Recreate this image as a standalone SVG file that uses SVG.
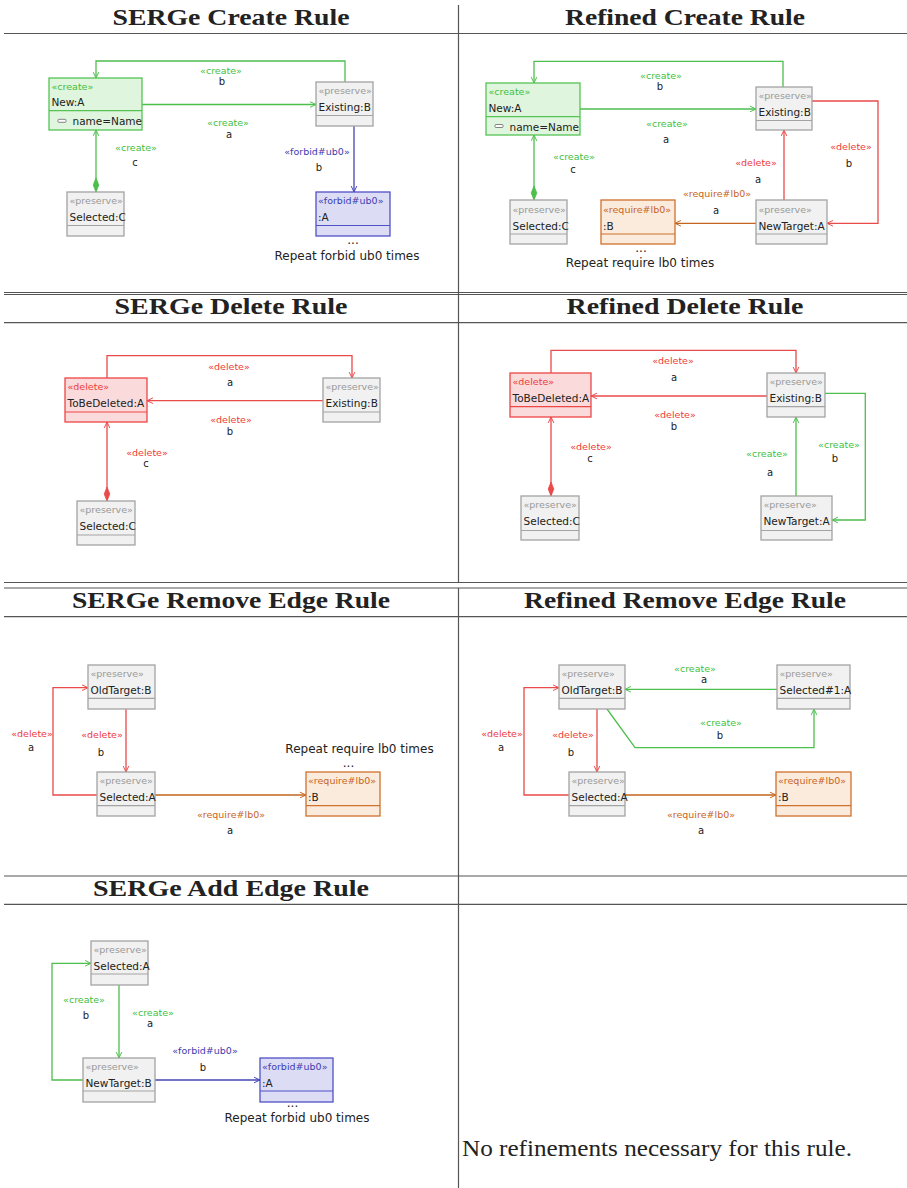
<svg xmlns="http://www.w3.org/2000/svg" width="907" height="1188" viewBox="0 0 907 1188">
  <style>
    .grid { stroke: #555; stroke-width: 1.2; fill: none; }
    .title { font-family: "Liberation Serif", "Times New Roman", serif; font-weight: bold; font-size: 23.5px; fill: #222; text-anchor: middle; }
    .body { font-family: "Liberation Serif", "Times New Roman", serif; font-size: 23px; fill: #222; }
    .box { stroke-width: 1.3; }
    .sep { stroke-width: 1.2; }
    .preserve { fill: #f0f1f0; stroke: #a3a3a3; }
    .create { fill: #e0f5dd; stroke: #55c455; }
    .forbid { fill: #dcdcf4; stroke: #5050c8; }
    .require { fill: #fbebdc; stroke: #d0702c; }
    .delete { fill: #fadadb; stroke: #ee4646; }
    text { font-family: "DejaVu Sans", "Noto Sans", sans-serif; }
    .st { font-size: 9.5px; }
    .nm { font-size: 10.5px; fill: #222; }
    .lt { font-size: 10px; fill: #222; text-anchor: middle; }
    .el { font-size: 9.5px; text-anchor: middle; }
    .note { font-size: 12px; fill: #222; text-anchor: middle; }
    .t-pre { fill: #999; }
    .t-cre { fill: #3fbf3f; }
    .t-del { fill: #ee3a3a; }
    .t-for { fill: #3c3cb0; }
    .t-req { fill: #c8641e; }
    .e { fill: none; stroke-width: 1.3; }
    .e-cre { stroke: #4cbf4c; }
    .e-del { stroke: #ea4a4a; }
    .e-for { stroke: #4444b4; }
    .e-req { stroke: #c4641e; }
  </style>
  <defs>
    <marker id="arrow-cre" viewBox="0 0 10 10" refX="9.5" refY="5" markerWidth="7" markerHeight="8" markerUnits="userSpaceOnUse" orient="auto">
      <path d="M1,1 L9.5,5 L1,9" fill="none" stroke="#4cbf4c" stroke-width="1.4"/>
    </marker>
    <marker id="arrow-del" viewBox="0 0 10 10" refX="9.5" refY="5" markerWidth="7" markerHeight="8" markerUnits="userSpaceOnUse" orient="auto">
      <path d="M1,1 L9.5,5 L1,9" fill="none" stroke="#ea4a4a" stroke-width="1.4"/>
    </marker>
    <marker id="arrow-for" viewBox="0 0 10 10" refX="9.5" refY="5" markerWidth="7" markerHeight="8" markerUnits="userSpaceOnUse" orient="auto">
      <path d="M1,1 L9.5,5 L1,9" fill="none" stroke="#4444b4" stroke-width="1.4"/>
    </marker>
    <marker id="arrow-req" viewBox="0 0 10 10" refX="9.5" refY="5" markerWidth="7" markerHeight="8" markerUnits="userSpaceOnUse" orient="auto">
      <path d="M1,1 L9.5,5 L1,9" fill="none" stroke="#c4641e" stroke-width="1.4"/>
    </marker>
    <marker id="diamond-cre" viewBox="0 0 14 10" refX="0" refY="5" markerWidth="14" markerHeight="10" markerUnits="userSpaceOnUse" orient="auto">
      <path d="M0,5 L7,2.2 L14,5 L7,7.8 Z" fill="#4cbf4c" stroke="#4cbf4c" stroke-width="0.8"/>
    </marker>
    <marker id="diamond-del" viewBox="0 0 14 10" refX="0" refY="5" markerWidth="14" markerHeight="10" markerUnits="userSpaceOnUse" orient="auto">
      <path d="M0,5 L7,2.2 L14,5 L7,7.8 Z" fill="#ea4a4a" stroke="#ea4a4a" stroke-width="0.8"/>
    </marker>
  </defs>

  <rect x="0" y="0" width="907" height="1188" fill="#ffffff"/>

  <!-- table rules -->
  <g id="table">
    <line class="grid" x1="458.5" y1="5" x2="458.5" y2="582.5"/>
    <line class="grid" x1="458.5" y1="588" x2="458.5" y2="1188"/>
    <line class="grid" x1="4" y1="33.5" x2="907" y2="33.5"/>
    <line class="grid" x1="4" y1="292.5" x2="907" y2="292.5"/>
    <line class="grid" x1="4" y1="294.5" x2="907" y2="294.5"/>
    <line class="grid" x1="4" y1="322.7" x2="907" y2="322.7"/>
    <line class="grid" x1="4" y1="582.5" x2="907" y2="582.5"/>
    <line class="grid" x1="4" y1="588" x2="907" y2="588"/>
    <line class="grid" x1="4" y1="616.7" x2="907" y2="616.7"/>
    <line class="grid" x1="4" y1="876" x2="907" y2="876"/>
    <line class="grid" x1="4" y1="904.3" x2="907" y2="904.3"/>
  </g>

  <!-- headings -->
  <g id="headings">
    <text class="title" x="231" y="25" textLength="237" lengthAdjust="spacingAndGlyphs">SERGe Create Rule</text>
    <text class="title" x="685" y="25" textLength="240" lengthAdjust="spacingAndGlyphs">Refined Create Rule</text>
    <text class="title" x="231" y="314" textLength="233" lengthAdjust="spacingAndGlyphs">SERGe Delete Rule</text>
    <text class="title" x="685" y="314" textLength="237" lengthAdjust="spacingAndGlyphs">Refined Delete Rule</text>
    <text class="title" x="231" y="608.3" textLength="318" lengthAdjust="spacingAndGlyphs">SERGe Remove Edge Rule</text>
    <text class="title" x="685" y="608.3" textLength="322" lengthAdjust="spacingAndGlyphs">Refined Remove Edge Rule</text>
    <text class="title" x="231" y="896" textLength="276" lengthAdjust="spacingAndGlyphs">SERGe Add Edge Rule</text>
    <text class="body" x="462" y="1156" textLength="390" lengthAdjust="spacingAndGlyphs">No refinements necessary for this rule.</text>
  </g>

  <!-- connectors -->
  <g id="connectors">
    <!-- SERGe Create Rule -->
    <path class="e e-cre" d="M345,82 V61 H96 V78" marker-end="url(#arrow-cre)"/>
    <path class="e e-cre" d="M142,104.5 H316" marker-end="url(#arrow-cre)"/>
    <path class="e e-cre" d="M96,192 V130" marker-start="url(#diamond-cre)" marker-end="url(#arrow-cre)"/>
    <path class="e e-for" d="M354,126 V192" marker-end="url(#arrow-for)"/>
    <text class="el t-cre" x="221" y="74.4">«create»</text>
    <text class="lt" x="222" y="85.3">b</text>
    <text class="el t-cre" x="228" y="126">«create»</text>
    <text class="lt" x="229" y="138">a</text>
    <text class="el t-cre" x="136" y="151">«create»</text>
    <text class="lt" x="135" y="165.5">c</text>
    <text class="el t-for" x="317" y="155.4">«forbid#ub0»</text>
    <text class="lt" x="319" y="171">b</text>

    <!-- Refined Create Rule -->
    <path class="e e-cre" d="M783,87 V61.3 H534 V83" marker-end="url(#arrow-cre)"/>
    <path class="e e-cre" d="M580,109 H756" marker-end="url(#arrow-cre)"/>
    <path class="e e-cre" d="M534,200 V135" marker-start="url(#diamond-cre)" marker-end="url(#arrow-cre)"/>
    <path class="e e-del" d="M784,200 V130" marker-end="url(#arrow-del)"/>
    <path class="e e-del" d="M812,101 H878 V223.3 H827" marker-end="url(#arrow-del)"/>
    <path class="e e-req" d="M756,223.3 H675" marker-end="url(#arrow-req)"/>
    <text class="el t-cre" x="661" y="79.4">«create»</text>
    <text class="lt" x="660" y="89.8">b</text>
    <text class="el t-cre" x="667" y="127">«create»</text>
    <text class="lt" x="666" y="143">a</text>
    <text class="el t-cre" x="574" y="160">«create»</text>
    <text class="lt" x="573" y="173">c</text>
    <text class="el t-del" x="756" y="165.7">«delete»</text>
    <text class="lt" x="758" y="182.5">a</text>
    <text class="el t-del" x="851" y="150.4">«delete»</text>
    <text class="lt" x="849" y="166.5">b</text>
    <text class="el t-req" x="717" y="196.7">«require#lb0»</text>
    <text class="lt" x="716" y="213.8">a</text>

    <!-- SERGe Delete Rule -->
    <path class="e e-del" d="M107,378 V355.7 H352 V378" marker-end="url(#arrow-del)"/>
    <path class="e e-del" d="M323,400.7 H147" marker-end="url(#arrow-del)"/>
    <path class="e e-del" d="M107,501 V422" marker-start="url(#diamond-del)" marker-end="url(#arrow-del)"/>
    <text class="el t-del" x="229" y="369.7">«delete»</text>
    <text class="lt" x="230" y="386">a</text>
    <text class="el t-del" x="231" y="423.4">«delete»</text>
    <text class="lt" x="230" y="434.5">b</text>
    <text class="el t-del" x="147" y="455.7">«delete»</text>
    <text class="lt" x="146" y="467">c</text>

    <!-- Refined Delete Rule -->
    <path class="e e-del" d="M551,373 V350.3 H796 V373" marker-end="url(#arrow-del)"/>
    <path class="e e-del" d="M767,396 H591" marker-end="url(#arrow-del)"/>
    <path class="e e-del" d="M551,496 V417" marker-start="url(#diamond-del)" marker-end="url(#arrow-del)"/>
    <path class="e e-cre" d="M796,496 V417" marker-end="url(#arrow-cre)"/>
    <path class="e e-cre" d="M825,393.3 H865.3 V520 H832" marker-end="url(#arrow-cre)"/>
    <text class="el t-del" x="673" y="364.4">«delete»</text>
    <text class="lt" x="674" y="381">a</text>
    <text class="el t-del" x="675" y="418.4">«delete»</text>
    <text class="lt" x="674" y="430">b</text>
    <text class="el t-del" x="591" y="450">«delete»</text>
    <text class="lt" x="590" y="462">c</text>
    <text class="el t-cre" x="767" y="457.4">«create»</text>
    <text class="lt" x="770" y="475.5">a</text>
    <text class="el t-cre" x="839" y="447.7">«create»</text>
    <text class="lt" x="835" y="462">b</text>

    <!-- SERGe Remove Edge Rule -->
    <path class="e e-del" d="M97,795 H53 V687.7 H88" marker-end="url(#arrow-del)"/>
    <path class="e e-del" d="M126,709 V772" marker-end="url(#arrow-del)"/>
    <path class="e e-req" d="M155,795 H306" marker-end="url(#arrow-req)"/>
    <text class="el t-del" x="32" y="736.7">«delete»</text>
    <text class="lt" x="31" y="751">a</text>
    <text class="el t-del" x="102" y="738.4">«delete»</text>
    <text class="lt" x="101" y="755.5">b</text>
    <text class="el t-req" x="231" y="817.7">«require#lb0»</text>
    <text class="lt" x="230" y="833.8">a</text>

    <!-- Refined Remove Edge Rule -->
    <path class="e e-del" d="M569,795 H524 V687.7 H559" marker-end="url(#arrow-del)"/>
    <path class="e e-del" d="M597,709 V772" marker-end="url(#arrow-del)"/>
    <path class="e e-cre" d="M777,689.3 H625" marker-end="url(#arrow-cre)"/>
    <path class="e e-cre" d="M607,709 L635,747.7 H814 V709" marker-end="url(#arrow-cre)"/>
    <path class="e e-req" d="M625,795 H776" marker-end="url(#arrow-req)"/>
    <text class="el t-del" x="502" y="736.7">«delete»</text>
    <text class="lt" x="501" y="751">a</text>
    <text class="el t-del" x="573" y="738.4">«delete»</text>
    <text class="lt" x="571" y="755.5">b</text>
    <text class="el t-cre" x="695" y="672.4">«create»</text>
    <text class="lt" x="704" y="683">a</text>
    <text class="el t-cre" x="721" y="725.7">«create»</text>
    <text class="lt" x="720" y="738.5">b</text>
    <text class="el t-req" x="701" y="817.7">«require#lb0»</text>
    <text class="lt" x="701" y="833.8">a</text>

    <!-- SERGe Add Edge Rule -->
    <path class="e e-cre" d="M119,985 V1058" marker-end="url(#arrow-cre)"/>
    <path class="e e-cre" d="M83,1080 H52 V963.3 H91" marker-end="url(#arrow-cre)"/>
    <path class="e e-for" d="M155,1080 H260" marker-end="url(#arrow-for)"/>
    <text class="el t-cre" x="153" y="1015.5">«create»</text>
    <text class="lt" x="150" y="1027">a</text>
    <text class="el t-cre" x="84" y="1003.4">«create»</text>
    <text class="lt" x="86" y="1018.5">b</text>
    <text class="el t-for" x="205" y="1054">«forbid#ub0»</text>
    <text class="lt" x="203" y="1070.5">b</text>
  </g>

  <!-- SERGe Create Rule nodes -->
  <g id="c1-new">
    <rect class="box create" x="49" y="78" width="93" height="52"/>
    <line class="sep create" x1="49" y1="110.7" x2="142" y2="110.7"/>
    <text class="st t-cre" x="51.5" y="90">«create»</text>
    <text class="nm" x="51.5" y="106.3">New:A</text>
    <rect x="58" y="119.3" width="8" height="3" rx="1" fill="#fff" stroke="#666" stroke-width="0.8"/>
    <text class="nm" x="72.5" y="125.3">name=Name</text>
  </g>
  <g id="c1-existing">
    <rect class="box preserve" x="316" y="82" width="57" height="44"/>
    <line class="sep preserve" x1="316" y1="115.5" x2="373" y2="115.5"/>
    <text class="st t-pre" x="318.5" y="94.2">«preserve»</text>
    <text class="nm" x="318.5" y="111">Existing:B</text>
  </g>
  <g id="c1-selected">
    <rect class="box preserve" x="67" y="192" width="57" height="44"/>
    <line class="sep preserve" x1="67" y1="225.5" x2="124" y2="225.5"/>
    <text class="st t-pre" x="69.5" y="204.2">«preserve»</text>
    <text class="nm" x="69.5" y="221">Selected:C</text>
  </g>
  <g id="c1-forbid">
    <rect class="box forbid" x="316" y="192" width="74" height="44"/>
    <line class="sep forbid" x1="316" y1="225.5" x2="390" y2="225.5"/>
    <text class="st t-for" x="318" y="204.2">«forbid#ub0»</text>
    <text class="nm" x="318" y="221">:A</text>
    <text class="note" x="353" y="243.5">...</text>
    <text class="note" x="347" y="260">Repeat forbid ub0 times</text>
  </g>

  <!-- Refined Create Rule nodes -->
  <g id="c2-new">
    <rect class="box create" x="486" y="83" width="94" height="52"/>
    <line class="sep create" x1="486" y1="116.7" x2="580" y2="116.7"/>
    <text class="st t-cre" x="488.5" y="94.5">«create»</text>
    <text class="nm" x="488.5" y="112">New:A</text>
    <rect x="495" y="124.5" width="8" height="3" rx="1" fill="#fff" stroke="#666" stroke-width="0.8"/>
    <text class="nm" x="509.5" y="130.5">name=Name</text>
  </g>
  <g id="c2-existing">
    <rect class="box preserve" x="756" y="87" width="56" height="43"/>
    <line class="sep preserve" x1="756" y1="120.5" x2="812" y2="120.5"/>
    <text class="st t-pre" x="758.5" y="99.4">«preserve»</text>
    <text class="nm" x="758.5" y="115.5">Existing:B</text>
  </g>
  <g id="c2-selected">
    <rect class="box preserve" x="510" y="200" width="57" height="44"/>
    <line class="sep preserve" x1="510" y1="234" x2="567" y2="234"/>
    <text class="st t-pre" x="512.5" y="213.4">«preserve»</text>
    <text class="nm" x="512.5" y="229.8">Selected:C</text>
  </g>
  <g id="c2-require">
    <rect class="box require" x="601" y="200" width="74" height="44"/>
    <line class="sep require" x1="601" y1="234" x2="675" y2="234"/>
    <text class="st t-req" x="603" y="213.4">«require#lb0»</text>
    <text class="nm" x="603" y="229.8">:B</text>
    <text class="note" x="641" y="251.5">...</text>
    <text class="note" x="640" y="267">Repeat require lb0 times</text>
  </g>
  <g id="c2-newtarget">
    <rect class="box preserve" x="756" y="200" width="71" height="44"/>
    <line class="sep preserve" x1="756" y1="234" x2="827" y2="234"/>
    <text class="st t-pre" x="758.5" y="213.4">«preserve»</text>
    <text class="nm" x="758.5" y="229.8">NewTarget:A</text>
  </g>

  <!-- SERGe Delete Rule nodes -->
  <g id="d1-tobedeleted">
    <rect class="box delete" x="65" y="378" width="82" height="44"/>
    <line class="sep delete" x1="65" y1="412" x2="147" y2="412"/>
    <text class="st t-del" x="67.5" y="390.2">«delete»</text>
    <text class="nm" x="67.5" y="407">ToBeDeleted:A</text>
  </g>
  <g id="d1-existing">
    <rect class="box preserve" x="323" y="378" width="57" height="44"/>
    <line class="sep preserve" x1="323" y1="412" x2="380" y2="412"/>
    <text class="st t-pre" x="325.5" y="390.2">«preserve»</text>
    <text class="nm" x="325.5" y="407">Existing:B</text>
  </g>
  <g id="d1-selected">
    <rect class="box preserve" x="77" y="501" width="58" height="44"/>
    <line class="sep preserve" x1="77" y1="535" x2="135" y2="535"/>
    <text class="st t-pre" x="79.5" y="513.4">«preserve»</text>
    <text class="nm" x="79.5" y="529.8">Selected:C</text>
  </g>

  <!-- Refined Delete Rule nodes -->
  <g id="d2-tobedeleted">
    <rect class="box delete" x="510" y="373" width="81" height="44"/>
    <line class="sep delete" x1="510" y1="406.7" x2="591" y2="406.7"/>
    <text class="st t-del" x="512.5" y="385.2">«delete»</text>
    <text class="nm" x="512.5" y="402">ToBeDeleted:A</text>
  </g>
  <g id="d2-existing">
    <rect class="box preserve" x="767" y="373" width="58" height="44"/>
    <line class="sep preserve" x1="767" y1="406.7" x2="825" y2="406.7"/>
    <text class="st t-pre" x="769.5" y="385.2">«preserve»</text>
    <text class="nm" x="769.5" y="402">Existing:B</text>
  </g>
  <g id="d2-selected">
    <rect class="box preserve" x="521" y="496" width="58" height="44"/>
    <line class="sep preserve" x1="521" y1="530.5" x2="579" y2="530.5"/>
    <text class="st t-pre" x="523.5" y="508.4">«preserve»</text>
    <text class="nm" x="523.5" y="524.8">Selected:C</text>
  </g>
  <g id="d2-newtarget">
    <rect class="box preserve" x="761" y="496" width="71" height="44"/>
    <line class="sep preserve" x1="761" y1="530.5" x2="832" y2="530.5"/>
    <text class="st t-pre" x="763.5" y="508.4">«preserve»</text>
    <text class="nm" x="763.5" y="524.8">NewTarget:A</text>
  </g>

  <!-- SERGe Remove Edge Rule nodes -->
  <g id="r1-oldtarget">
    <rect class="box preserve" x="88" y="665" width="67" height="44"/>
    <line class="sep preserve" x1="88" y1="698.3" x2="155" y2="698.3"/>
    <text class="st t-pre" x="90.5" y="677.4">«preserve»</text>
    <text class="nm" x="90.5" y="693.8">OldTarget:B</text>
  </g>
  <g id="r1-selected">
    <rect class="box preserve" x="97" y="772" width="58" height="44"/>
    <line class="sep preserve" x1="97" y1="805.7" x2="155" y2="805.7"/>
    <text class="st t-pre" x="99.5" y="784.4">«preserve»</text>
    <text class="nm" x="99.5" y="801">Selected:A</text>
  </g>
  <g id="r1-require">
    <rect class="box require" x="306" y="772" width="74" height="44"/>
    <line class="sep require" x1="306" y1="805.7" x2="380" y2="805.7"/>
    <text class="st t-req" x="308" y="784.4">«require#lb0»</text>
    <text class="nm" x="308" y="801">:B</text>
    <text class="note" x="359.5" y="752.5">Repeat require lb0 times</text>
    <text class="note" x="348.5" y="766.5">...</text>
  </g>

  <!-- Refined Remove Edge Rule nodes -->
  <g id="r2-oldtarget">
    <rect class="box preserve" x="559" y="665" width="66" height="44"/>
    <line class="sep preserve" x1="559" y1="698.3" x2="625" y2="698.3"/>
    <text class="st t-pre" x="561.5" y="677.4">«preserve»</text>
    <text class="nm" x="561.5" y="693.8">OldTarget:B</text>
  </g>
  <g id="r2-selected1">
    <rect class="box preserve" x="777" y="665" width="73" height="44"/>
    <line class="sep preserve" x1="777" y1="698.3" x2="850" y2="698.3"/>
    <text class="st t-pre" x="779.5" y="677.4">«preserve»</text>
    <text class="nm" x="779.5" y="693.8">Selected#1:A</text>
  </g>
  <g id="r2-selected">
    <rect class="box preserve" x="569" y="772" width="56" height="44"/>
    <line class="sep preserve" x1="569" y1="805.7" x2="625" y2="805.7"/>
    <text class="st t-pre" x="571.5" y="784.4">«preserve»</text>
    <text class="nm" x="571.5" y="801">Selected:A</text>
  </g>
  <g id="r2-require">
    <rect class="box require" x="776" y="772" width="75" height="44"/>
    <line class="sep require" x1="776" y1="805.7" x2="851" y2="805.7"/>
    <text class="st t-req" x="778" y="784.4">«require#lb0»</text>
    <text class="nm" x="778" y="801">:B</text>
  </g>

  <!-- SERGe Add Edge Rule nodes -->
  <g id="a1-selected">
    <rect class="box preserve" x="91" y="941" width="57" height="44"/>
    <line class="sep preserve" x1="91" y1="974" x2="148" y2="974"/>
    <text class="st t-pre" x="93.5" y="952.7">«preserve»</text>
    <text class="nm" x="93.5" y="969.8">Selected:A</text>
  </g>
  <g id="a1-newtarget">
    <rect class="box preserve" x="83" y="1058" width="72" height="44"/>
    <line class="sep preserve" x1="83" y1="1091" x2="155" y2="1091"/>
    <text class="st t-pre" x="85.5" y="1070">«preserve»</text>
    <text class="nm" x="85.5" y="1086.5">NewTarget:B</text>
  </g>
  <g id="a1-forbid">
    <rect class="box forbid" x="260" y="1058" width="73" height="44"/>
    <line class="sep forbid" x1="260" y1="1091" x2="333" y2="1091"/>
    <text class="st t-for" x="262" y="1070">«forbid#ub0»</text>
    <text class="nm" x="262" y="1086.5">:A</text>
    <text class="note" x="292.5" y="1106.5">...</text>
    <text class="note" x="297" y="1121.5">Repeat forbid ub0 times</text>
  </g>
</svg>
